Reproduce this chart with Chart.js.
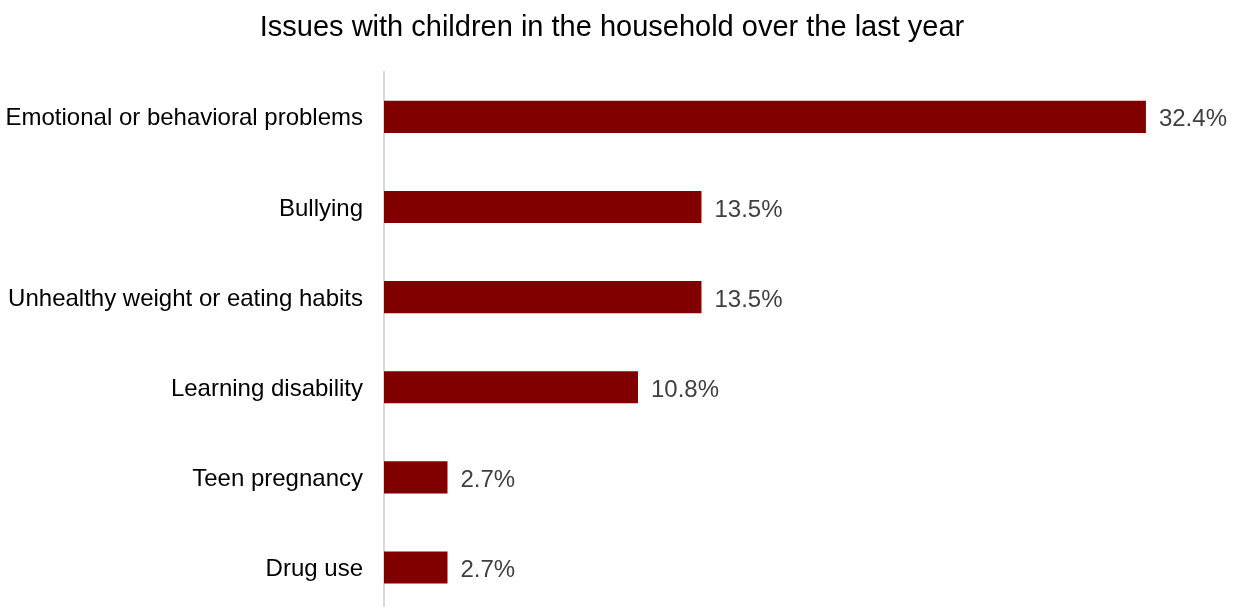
<!DOCTYPE html>
<html>
<head>
<meta charset="utf-8">
<script src="https://cdn.jsdelivr.net/npm/chart.js@4/dist/chart.umd.min.js"></script>
<style>
html,body{margin:0;padding:0;background:#fff;overflow:hidden;}
canvas{display:block;}
</style>
</head>
<body>
<canvas id="c" width="1237" height="648"></canvas>
<script>
const titleText = "Issues with children in the household over the last year";
const categories = [
  "Emotional or behavioral problems",
  "Bullying",
  "Unhealthy weight or eating habits",
  "Learning disability",
  "Teen pregnancy",
  "Drug use"
];
const values = [32.4, 13.5, 13.5, 10.8, 2.7, 2.7];
const valueLabels = ["32.4%", "13.5%", "13.5%", "10.8%", "2.7%", "2.7%"];

const FONT = "'Liberation Sans', Arial, sans-serif";

const labelPlugin = {
  id: 'valueLabels',
  afterDatasetsDraw(chart) {
    const ctx = chart.ctx;
    const meta = chart.getDatasetMeta(0);
    ctx.save();
    ctx.font = "24px " + FONT;
    ctx.fillStyle = "#404040";
    ctx.textAlign = "left";
    ctx.textBaseline = "middle";
    meta.data.forEach((bar, i) => {
      ctx.fillText(valueLabels[i], bar.x + 13, bar.y + 3);
    });
    ctx.restore();
  }
};

new Chart(document.getElementById('c'), {
  type: 'bar',
  data: {
    labels: categories,
    datasets: [{
      data: values,
      backgroundColor: '#800000',
      borderWidth: 0,
      categoryPercentage: 1,
      barPercentage: 0.356
    }]
  },
  options: {
    indexAxis: 'y',
    responsive: false,
    maintainAspectRatio: false,
    animation: false,
    devicePixelRatio: 1,
    layout: { padding: { left: 0, right: 13, top: 0, bottom: 0 } },
    plugins: {
      legend: { display: false },
      tooltip: { enabled: false },
      title: {
        display: true,
        text: titleText,
        color: '#000',
        font: { family: FONT, size: 29, weight: 'normal' },
        padding: { top: 11, bottom: 26 }
      }
    },
    scales: {
      x: {
        display: false,
        min: 0,
        max: 35.72
      },
      y: {
        afterFit(scale) { scale.width = 384; },
        grid: { display: false, drawTicks: false },
        border: { display: true, color: '#d9d9d9', width: 2 },
        ticks: {
          color: '#000',
          padding: 21,
          labelOffset: 2,
          font: { family: FONT, size: 24 }
        }
      }
    }
  },
  plugins: [labelPlugin]
});
</script>
</body>
</html>
